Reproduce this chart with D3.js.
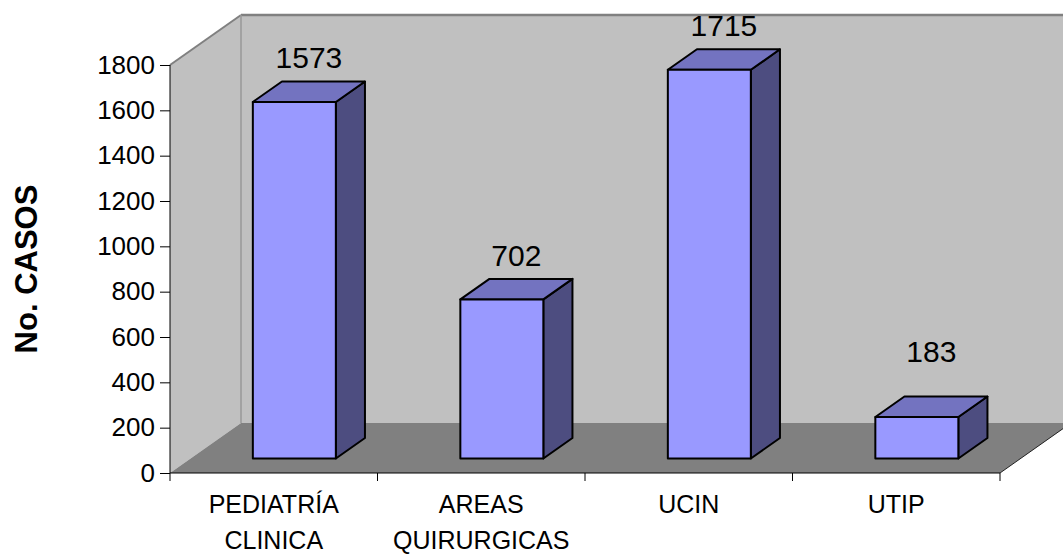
<!DOCTYPE html>
<html>
<head>
<meta charset="utf-8">
<script src="https://cdn.jsdelivr.net/npm/d3@7"></script>
<style>
  body { margin: 0; background: #fff; }
  svg { display: block; font-family: "Liberation Sans", Arial, sans-serif; }
</style>
</head>
<body>
<svg id="chart"></svg>
<script>
  const categories = [['PEDIATRÍA', 'CLINICA'], ['AREAS', 'QUIRURGICAS'], ['UCIN'], ['UTIP']];
  const values = [1573, 702, 1715, 183];
  const yTicks = [0, 200, 400, 600, 800, 1000, 1200, 1400, 1600, 1800];
  const yTitle = 'No. CASOS';

  const width = 1063, height = 555;
  const x0 = 170, x1 = 1000;
  const depthX = 71, depthY = 50;
  const zFront = 0.29, zBack = 0.7;

  const svg = d3.select('#chart')
    .attr('width', width)
    .attr('height', height);

  const yScale = d3.scaleLinear()
    .domain([0, 1800])
    .range([473, 65]);

  const xScale = d3.scaleBand()
    .domain(d3.range(values.length))
    .range([x0, x1])
    .paddingInner(0.6)
    .paddingOuter(0.3);

  // project a point (front x, value, depth 0..1)
  const pt = (x, v, z) => [x + z * depthX, yScale(v) - z * depthY];
  const poly = pts => pts.map(p => p.join(',')).join(' ');

  const yMin = yScale(0), yMax = yScale(1800);

  // walls and floor
  svg.append('polygon')
    .attr('points', poly([pt(x0, 1800, 1), pt(x1 + 200, 1800, 1), pt(x1 + 200, 0, 1), pt(x0, 0, 1)]))
    .attr('fill', '#c0c0c0');
  svg.append('polygon')
    .attr('points', poly([pt(x0, 0, 0), pt(x0, 1800, 0), pt(x0, 1800, 1), pt(x0, 0, 1)]))
    .attr('fill', '#c0c0c0');
  svg.append('polygon')
    .attr('points', poly([pt(x0, 0, 0), pt(x1, 0, 0), pt(x1, 0, 1), pt(x0, 0, 1)]))
    .attr('fill', '#808080');

  // wall edges
  svg.append('line')
    .attr('x1', pt(x0, 1800, 1)[0]).attr('y1', pt(x0, 1800, 1)[1])
    .attr('x2', width).attr('y2', pt(x0, 1800, 1)[1])
    .attr('stroke', '#808080').attr('stroke-width', 2.5);
  svg.append('line')
    .attr('x1', pt(x0, 1800, 0)[0]).attr('y1', pt(x0, 1800, 0)[1])
    .attr('x2', pt(x0, 1800, 1)[0]).attr('y2', pt(x0, 1800, 1)[1])
    .attr('stroke', '#808080').attr('stroke-width', 2);
  svg.append('line')
    .attr('x1', pt(x0, 1800, 1)[0]).attr('y1', pt(x0, 1800, 1)[1])
    .attr('x2', pt(x0, 0, 1)[0]).attr('y2', pt(x0, 0, 1)[1])
    .attr('stroke', '#999').attr('stroke-width', 1.5);
  svg.append('line')
    .attr('x1', pt(x1, 0, 0)[0]).attr('y1', pt(x1, 0, 0)[1])
    .attr('x2', pt(x1, 0, 1.3)[0]).attr('y2', pt(x1, 0, 1.3)[1])
    .attr('stroke', '#222').attr('stroke-width', 1);

  // bars
  const bars = svg.selectAll('g.bar')
    .data(values)
    .enter()
    .append('g')
    .attr('class', 'bar');

  bars.each(function (v, i) {
    const g = d3.select(this);
    const xl = xScale(i), xr = xScale(i) + xScale.bandwidth();
    g.append('polygon')
      .attr('points', poly([pt(xr, 0, zFront), pt(xr, v, zFront), pt(xr, v, zBack), pt(xr, 0, zBack)]))
      .attr('fill', '#4d4d80');
    g.append('polygon')
      .attr('points', poly([pt(xl, v, zFront), pt(xr, v, zFront), pt(xr, v, zBack), pt(xl, v, zBack)]))
      .attr('fill', '#7373c0');
    g.append('polygon')
      .attr('points', poly([pt(xl, 0, zFront), pt(xr, 0, zFront), pt(xr, v, zFront), pt(xl, v, zFront)]))
      .attr('fill', '#9999ff');
    g.selectAll('polygon')
      .attr('stroke', '#000')
      .attr('stroke-width', 2)
      .attr('stroke-linejoin', 'round');
  });

  // value labels
  svg.selectAll('text.value')
    .data(values)
    .enter()
    .append('text')
    .attr('class', 'value')
    .attr('x', (v, i) => pt(xScale(i) + xScale.bandwidth() / 2, v, (zFront + zBack) / 2)[0])
    .attr('y', v => Math.min(pt(0, v, zBack)[1] - 13, yScale(490)))
    .attr('text-anchor', 'middle')
    .attr('font-size', 30)
    .attr('fill', '#000')
    .text(v => v);

  // y axis
  const yAxis = svg.append('g')
    .attr('transform', `translate(${x0},0)`)
    .call(d3.axisLeft(yScale).tickValues(yTicks).tickSize(10).tickPadding(5).tickFormat(d3.format('d')));
  yAxis.select('.domain').attr('stroke', '#000').attr('d', `M0,${yMax}V${yMin}`);
  yAxis.selectAll('.tick line').attr('stroke', '#000');
  yAxis.selectAll('.tick text')
    .attr('font-size', 26)
    .attr('font-family', '"Liberation Sans", Arial, sans-serif')
    .attr('fill', '#000');

  // x axis
  const step = xScale.step();
  svg.append('line')
    .attr('x1', x0).attr('x2', x1)
    .attr('y1', yMin).attr('y2', yMin)
    .attr('stroke', '#000');
  svg.selectAll('line.xtick')
    .data(d3.range(values.length + 1))
    .enter()
    .append('line')
    .attr('class', 'xtick')
    .attr('x1', i => x0 + i * step).attr('x2', i => x0 + i * step)
    .attr('y1', yMin).attr('y2', yMin + 8)
    .attr('stroke', '#000');

  const catLabels = svg.selectAll('text.cat')
    .data(categories)
    .enter()
    .append('text')
    .attr('class', 'cat')
    .attr('text-anchor', 'middle')
    .attr('font-size', 25)
    .attr('fill', '#000');
  catLabels.selectAll('tspan')
    .data((d, i) => d.map(line => ({ line, i })))
    .enter()
    .append('tspan')
    .attr('x', d => x0 + (d.i + 0.5) * step)
    .attr('y', (d, j) => 513 + j * 36)
    .text(d => d.line);

  // y title
  svg.append('text')
    .attr('transform', `translate(37,${(yMin + yMax) / 2}) rotate(-90)`)
    .attr('text-anchor', 'middle')
    .attr('font-size', 31)
    .attr('font-weight', 'bold')
    .attr('fill', '#000')
    .text(yTitle);
</script>
</body>
</html>
